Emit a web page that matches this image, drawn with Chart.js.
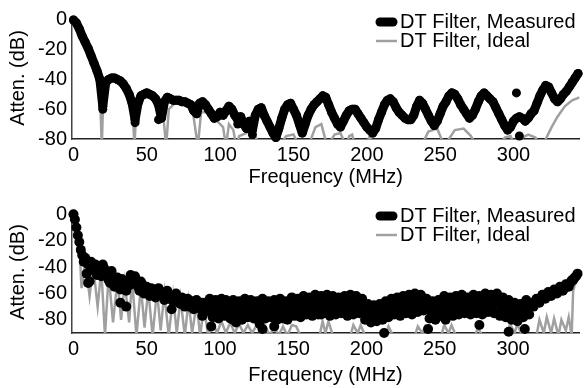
<!DOCTYPE html>
<html>
<head>
<meta charset="utf-8">
<script src="https://cdn.jsdelivr.net/npm/chart.js@4.4.1/dist/chart.umd.min.js"></script>
<style>
  html, body { margin: 0; padding: 0; background: #fff; }
  .panel { position: absolute; left: 0; width: 584px; height: 194px; }
</style>
</head>
<body>
<div class="panel" style="top:0"><canvas id="topChart" width="584" height="194"></canvas></div>
<div class="panel" style="top:194px"><canvas id="bottomChart" width="584" height="194"></canvas></div>
<script>
// ---- data ----
const seriesLabels = ['DT Filter, Measured', 'DT Filter, Ideal'];
const xTicks = [0, 50, 100, 150, 200, 250, 300];
const yTicks = [0, -20, -40, -60, -80];

// upper panel, measured (MHz / dB)
const freqTop = [0,2,4,6,8,10,12,14,16,18,20,22,24,26,28,30,32,34,36,38,40,42,44,46,48,50,52,54,56,58,60,62,64,66,68,70,72,74,76,78,80,82,84,86,88,90,92,94,96,98,100,102,104,106,108,110,112,114,116,118,120,122,124,126,128,130,132,134,136,138,140,142,144,146,148,150,152,154,156,158,160,162,164,166,168,170,172,174,176,178,180,182,184,186,188,190,192,194,196,198,200,202,204,206,208,210,212,214,216,218,220,222,224,226,228,230,232,234,236,238,240,242,244,246,248,250,252,254,256,258,260,262,264,266,268,270,272,274,276,278,280,282,284,286,288,290,292,294,296,298,300,302,304,306,308,310,312,314,316,318,320,322,324,326,328,330,332,334,336,338,340,342,344];
const measTop = [0,-2,-6,-11,-15,-19,-24,-29,-34,-40,-58,-42,-40,-39,-39,-40,-41,-43,-46,-50,-56,-67,-56,-51,-50,-49,-50,-51,-53,-57,-66,-55,-52,-53,-54,-54,-54,-55,-55,-56,-57,-61,-63,-56,-55,-57,-60,-63,-66,-65,-62,-64,-61,-58,-60,-64,-67,-65,-70,-73,-68,-74,-64,-60,-59,-64,-68,-72,-76,-79,-73,-66,-60,-57,-56,-60,-64,-70,-76,-70,-64,-60,-57,-55,-53,-51,-52,-57,-62,-66,-70,-72,-68,-64,-61,-60,-60,-63,-66,-69,-72,-74,-76,-73,-67,-62,-57,-54,-53,-55,-59,-62,-64,-66,-67,-67,-64,-58,-54,-56,-60,-64,-68,-71,-68,-63,-58,-55,-51,-49,-50,-53,-57,-60,-63,-66,-64,-60,-55,-51,-49,-51,-53,-55,-59,-63,-67,-71,-74,-72,-68,-66,-65,-66,-68,-66,-63,-61,-56,-51,-47,-44,-45,-49,-53,-55,-53,-50,-48,-45,-42,-39,-36];
const strayTopFreq = [20, 42, 58, 112, 122, 302, 304];
const strayTop = [-60, -69, -67, -70, -77, -49, -78];

// upper panel, ideal
const idealTopFreq = [0,4,8,12,16,18,19.3,20.5,23,28,33,37,40,41.6,43,47,52,57,61,63.2,65,70,76,81,84.8,87,92,98,102,104,106,109,111,113,118,121,124,127,140,145,150,154,160,165,169,173,178,182,186,188,190,192,199,202,205,237,242,248,253,256,260,266,271,275,290,294,298,301,306,310,315,318,322,326,330,335,340,345];
const idealTop = [0,-5,-14,-24,-36,-46,-85,-46,-40,-39,-42,-47,-56,-85,-56,-50,-50,-54,-62,-85,-60,-55,-55,-59,-85,-62,-62,-68,-72,-85,-70,-74,-85,-78,-76,-72,-78,-85,-85,-78,-77,-85,-85,-72,-70,-85,-77,-76,-85,-78,-77,-85,-85,-78,-85,-85,-75,-73,-85,-80,-74,-73,-78,-85,-85,-79,-78,-85,-79,-77,-79,-85,-80,-72,-65,-58,-54,-52];

// lower panel, measured (several passes of readings through the scatter)
const freqBottom = [0,1,2,3,4,5,6,7,8,9,10,11,12,13,14,16,18,20,22,24,26,28,30,32,34,36,38,40,42,44,46,48,50,52,54,56,58,60,62,64,66,68,70,72,74,76,78,80,82,84,86,88,90,92,94,96,98,100,102,104,106,108,110,112,114,116,118,120,122,124,126,128,130,132,134,136,138,140,142,144,146,148,150,152,154,156,158,160,162,164,166,168,170,172,174,176,178,180,182,184,186,188,190,192,194,196,198,200,202,204,206,208,210,212,214,216,218,220,222,224,226,228,230,232,234,236,238,240,242,244,246,248,250,252,254,256,258,260,262,264,266,268,270,272,274,276,278,280,282,284,286,288,290,292,294,296,298,300,302,304,306,308,310,312,314,316,318,320,322,324,326,328,330,332,334,336,338,340,342,344];
const measBottom = [0,-4,-10,-16,-21,-27,-31,-36,-33,-45,-38,-51,-36,-42,-40,-46,-41,-38,-44,-50,-43,-55,-48,-57,-51,-58,-54,-49,-47,-55,-51,-60,-55,-62,-57,-63,-56,-59,-65,-58,-62,-66,-60,-67,-63,-70,-64,-68,-72,-65,-70,-67,-74,-66,-71,-69,-75,-67,-72,-65,-74,-69,-76,-68,-73,-66,-75,-70,-77,-68,-73,-70,-78,-69,-74,-71,-77,-68,-75,-71,-78,-69,-74,-70,-77,-67,-73,-69,-75,-66,-71,-67,-74,-64,-70,-66,-72,-68,-65,-71,-67,-73,-66,-64,-70,-68,-75,-72,-78,-74,-80,-76,-73,-77,-70,-74,-68,-72,-67,-71,-65,-69,-66,-71,-64,-69,-63,-67,-72,-69,-76,-71,-77,-70,-66,-72,-68,-74,-67,-71,-66,-73,-68,-65,-71,-67,-73,-66,-70,-64,-69,-63,-67,-72,-68,-74,-70,-76,-72,-79,-74,-70,-73,-67,-70,-64,-67,-61,-64,-59,-62,-57,-60,-55,-58,-53,-55,-50,-48,-45];
const freqBottomB = [15,17,19,21,23,25,27,29,31,33,35,37,39,41,43,45,47,49,51,53,55,57,59,61,63,65,67,69,71,73,75,77,79,81,83,85,87,89,91,93,95,97,99,101,103,105,107,109,111,113,115,117,119,121,123,125,127,129,131,133,135,137,139,141,143,145,147,149,151,153,155,157,159,161,163,165,167,169,171,173,175,177,179,181,183,185,187,189,191,193,195,197,199,201,203,205,207,209,211,213,215,217,219,221,223,225,227,229,231,233,235,237,239,241,243,245,247,249,251,253,255,257,259,261,263,265,267,269,271,273,275,277,279,281,283,285,287,289,291,293,295,297,299,301,303,305,307,309,311,313,315,317,319,321,323,325,327,329,331,333,335,337,339,341,343];
const measBottomB = [-38,-44,-47,-41,-46,-52,-47,-51,-53,-49,-55,-51,-46,-52,-50,-58,-53,-57,-60,-56,-59,-61,-60,-62,-61,-64,-63,-65,-64,-68,-66,-68,-70,-66,-69,-71,-68,-72,-70,-73,-68,-72,-71,-74,-70,-72,-71,-73,-70,-76,-72,-70,-73,-71,-74,-70,-75,-72,-74,-71,-75,-73,-70,-73,-75,-72,-74,-71,-72,-74,-70,-72,-71,-70,-73,-69,-70,-68,-71,-67,-69,-68,-70,-69,-68,-69,-70,-68,-69,-67,-66,-71,-72,-75,-74,-77,-74,-77,-75,-73,-72,-71,-70,-70,-69,-68,-68,-67,-69,-67,-66,-67,-65,-70,-71,-73,-73,-74,-72,-68,-70,-70,-71,-70,-69,-69,-70,-70,-66,-68,-69,-70,-69,-68,-67,-67,-66,-66,-69,-70,-71,-72,-73,-74,-75,-77,-72,-71,-70,-69,-67,-66,-64,-63,-61,-60,-60,-58,-58,-56,-56,-54,-52,-50,-47];
const freqBottomC = [93,95,97,99,101,103,105,107,109,111,113,115,117,119,121,123,125,127,129,131,133,135,137,139,141,143,145,147,149,151,153,155,157,159,161,163,165,167,169,171,173,175,177,179,181,183,185,187,189,191,193,195,197,199,201,203,205,207,209,211,213,215,217,219,221,223,225,227,229,231,233,235,237,239,241,243,245,247,249,251,253,255,257,259,261,263,265,267,269,271,273,275,277,279,281,283,285,287,289,291,293,295,297,299,301,303,305,307,309,311];
const measBottomC = [-64,-78,-65,-79,-64,-77,-66,-79,-65,-78,-66,-80,-64,-78,-65,-79,-66,-80,-64,-79,-66,-78,-65,-80,-64,-79,-66,-78,-63,-77,-64,-78,-62,-76,-63,-77,-61,-76,-62,-75,-61,-77,-62,-76,-63,-75,-62,-77,-61,-76,-62,-75,-64,-80,-68,-82,-69,-81,-68,-80,-66,-78,-64,-76,-63,-77,-62,-75,-61,-76,-60,-74,-61,-73,-64,-79,-66,-80,-65,-77,-62,-76,-63,-77,-62,-76,-61,-75,-63,-76,-61,-75,-62,-76,-60,-74,-61,-75,-60,-77,-63,-78,-65,-80,-67,-81,-68,-78,-65,-76];
const strayBottomFreq = [10, 32, 36, 67, 88, 94, 109, 111, 127, 129, 137, 146, 169, 212, 242, 254, 277, 297, 308];
const strayBottom = [-52, -67, -70, -72, -77, -85, -80, -82, -83, -87, -85, -80, -76, -90, -87, -80, -84, -89, -87];

// lower panel, ideal
const idealBottomFreq = [0,2,4,5.5,8,11,13.5,16.5,19,21.5,24,27,30,32.5,35,38,40,43,46,48.5,51,54,57,59.5,62,65,68,70.5,73,76,78.5,81,84,86.5,89,92,95,98,101,104,107,110,113,116,119,122,125,128,131,134,137,140,143,146,149,152,155,168,170,172,174,177,189,191,194,196,199,213,215,218,233,235,238,240,243,251,253,256,258,261,274,276,279,296,298,301,303,306,316,318,321,323,326,328,331,333,336,338,340,341,343,345];
const idealBottom = [0,-8,-22,-56,-35,-62,-40,-70,-42,-92,-46,-82,-50,-80,-52,-82,-50,-92,-55,-86,-57,-92,-58,-88,-60,-92,-62,-90,-64,-92,-66,-90,-68,-92,-70,-92,-82,-90,-81,-90,-82,-90,-83,-90,-84,-90,-84,-91,-85,-92,-85,-92,-85,-92,-84,-85,-92,-92,-81,-90,-81,-92,-92,-84,-90,-84,-92,-92,-85,-92,-92,-85,-90,-85,-92,-92,-84,-90,-84,-92,-92,-86,-92,-92,-83,-90,-83,-92,-92,-80,-90,-78,-90,-79,-92,-80,-88,-78,-92,-58,-50,-44];

// ---- drawing ----
Chart.defaults.font.family = "'Liberation Sans', Arial, sans-serif";
const font = { size: 20 };

const pairs = (xs, ys) => xs.map((x, i) => ({ x: x, y: ys[i] }));

const insetLegend = {
    id: 'insetLegend',
    afterDatasetsDraw(chart) {
        const ctx = chart.ctx;
        ctx.save();
        ctx.font = '20px ' + Chart.defaults.font.family;
        ctx.textBaseline = 'middle';
        ctx.fillStyle = '#000';
        ctx.strokeStyle = '#000';
        ctx.lineWidth = 9;
        ctx.lineCap = 'round';
        ctx.beginPath(); ctx.moveTo(380, 22); ctx.lineTo(393, 22); ctx.stroke();
        ctx.fillText(seriesLabels[0], 400, 22);
        ctx.strokeStyle = '#a0a0a0';
        ctx.lineWidth = 2.5;
        ctx.lineCap = 'butt';
        ctx.beginPath(); ctx.moveTo(376, 41); ctx.lineTo(397, 41); ctx.stroke();
        ctx.fillText(seriesLabels[1], 400, 41);
        ctx.restore();
    }
};

const dots = (data, r) => ({
    label: 'measured dots',
    data: data,
    backgroundColor: '#000',
    pointRadius: r,
    pointBorderWidth: 0,
    clip: 8
});

const makePanel = (id, p) => {
    const measured = p.joined ? {
        label: seriesLabels[0],
        data: pairs(p.freq, p.meas),
        showLine: true,
        borderColor: '#000',
        borderWidth: 9,
        borderJoinStyle: 'round',
        borderCapStyle: 'round',
        backgroundColor: '#000',
        pointRadius: 4.5,
        pointBorderWidth: 0,
        clip: 8
    } : Object.assign(dots(pairs(p.freq, p.meas), p.r), { label: seriesLabels[0] });
    const datasets = [measured];
    p.extra.forEach(d => datasets.push(dots(d, p.r)));
    datasets.push({
        label: seriesLabels[1],
        data: pairs(p.idealFreq, p.ideal),
        showLine: true,
        borderColor: '#a0a0a0',
        borderWidth: 2.5,
        pointRadius: 0
    });

    new Chart(document.getElementById(id), {
        type: 'scatter',
        data: { datasets: datasets },
        options: {
            responsive: false,
            animation: false,
            events: [],
            devicePixelRatio: 1,
            layout: { padding: { top: 15, left: 0, right: 0, bottom: 0 } },
            plugins: { legend: { display: false }, tooltip: { enabled: false } },
            scales: {
                x: {
                    type: 'linear',
                    min: -1,
                    max: 345,
                    afterBuildTicks: s => { s.ticks = xTicks.map(v => ({ value: v })); },
                    afterFit: s => { s.height = 55; },
                    grid: { display: false, drawTicks: false },
                    border: { display: true, color: '#222', width: 1.5 },
                    ticks: { font: font, color: '#000', padding: 4, maxRotation: 0, autoSkip: false },
                    title: { display: true, text: 'Frequency (MHz)', font: font, color: '#000', padding: { top: 0, bottom: p.xTitlePad } }
                },
                y: {
                    type: 'linear',
                    min: p.yMin,
                    max: p.yMax,
                    afterBuildTicks: s => { s.ticks = yTicks.map(v => ({ value: v })); },
                    afterFit: s => { s.width = 72; },
                    grid: { display: false, drawTicks: false },
                    border: { display: true, color: '#444', width: 1.5 },
                    ticks: { font: font, color: '#000', padding: 5 },
                    title: { display: true, text: 'Atten. (dB)', font: font, color: '#000', padding: { top: 6, bottom: 0 } }
                }
            }
        },
        plugins: [insetLegend]
    });
};

makePanel('topChart', {
    freq: freqTop, meas: measTop, joined: true, r: 4.5,
    extra: [pairs(strayTopFreq, strayTop)],
    idealFreq: idealTopFreq, ideal: idealTop,
    yMin: -80, yMax: 2, xTitlePad: 5
});

makePanel('bottomChart', {
    freq: freqBottom, meas: measBottom, joined: false, r: 5,
    extra: [pairs(freqBottomB, measBottomB), pairs(freqBottomC, measBottomC), pairs(strayBottomFreq, strayBottom)],
    idealFreq: idealBottomFreq, ideal: idealBottom,
    yMin: -90, yMax: 2.5, xTitlePad: 1
});
</script>
</body>
</html>
